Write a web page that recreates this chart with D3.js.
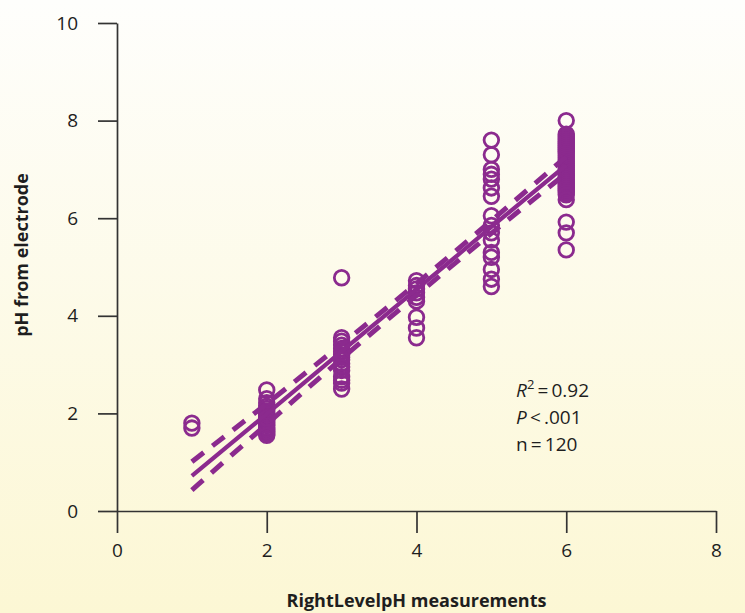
<!DOCTYPE html>
<html>
<head>
<meta charset="utf-8">
<script src="https://cdn.jsdelivr.net/npm/d3@7"></script>
<style>
  html, body { margin: 0; padding: 0; }
  body { width: 745px; height: 613px; overflow: hidden; }
  svg { display: block; font-family: "Open Sans", "Noto Sans", sans-serif; }
</style>
</head>
<body>
<svg width="745" height="613"></svg>
<script>
const xTicks = [0, 2, 4, 6, 8];
const yTicks = [0, 2, 4, 6, 8, 10];

const ph1 = [1.8, 1.7];
const ph2 = [2.48, 2.3, 2.22, 2.15, 2.1, 2.05, 2.0, 1.97, 1.93, 1.9, 1.86, 1.82, 1.78, 1.75, 1.7, 1.66, 1.62, 1.58, 1.55, 1.9];
const ph3 = [4.78, 3.55, 3.48, 3.4, 3.33, 3.27, 3.2, 3.15, 3.1, 3.02, 2.95, 2.88, 2.75, 2.68, 2.62, 2.5];
const ph4 = [4.72, 4.62, 4.55, 4.47, 4.38, 4.3, 3.97, 3.75, 3.55];
const ph5 = [7.6, 7.3, 7.0, 6.9, 6.8, 6.62, 6.45, 6.05, 5.85, 5.7, 5.55, 5.3, 5.2, 4.95, 4.75, 4.6];
const ph6 = [8.0, 7.72, 7.68, 7.64, 7.6, 7.56, 7.52, 7.48, 7.44, 7.4, 7.36, 7.32, 7.28, 7.24, 7.2,
             7.16, 7.12, 7.08, 7.04, 7.0, 6.96, 6.92, 6.88, 6.84, 6.8, 6.76, 6.72, 6.68, 6.64, 6.6,
             6.56, 6.52, 6.48, 6.38, 5.92, 5.7, 5.35];

const fitX = [1, 2, 3, 4, 5, 6];
const fitY = [0.72, 1.99, 3.27, 4.54, 5.82, 7.09];
const upperY = [1.01, 2.2, 3.42, 4.66, 5.95, 7.26];
const lowerY = [0.43, 1.78, 3.12, 4.42, 5.69, 6.92];

const stats = ["0.92", ".001", "120"];

const points = [];
[[1, ph1], [2, ph2], [3, ph3], [4, ph4], [5, ph5], [6, ph6]].forEach(([x, arr]) => {
  arr.forEach((y) => points.push({ x: x, y: y }));
});

const purple = "#8b2a8e";
const ink = "#1e1e1e";
const svg = d3.select("svg");

// background wash, white at top to pale yellow at bottom
const grad = svg.append("defs").append("linearGradient")
  .attr("id", "bg").attr("x1", 0).attr("y1", 0).attr("x2", 0).attr("y2", 1);
grad.append("stop").attr("offset", "0%").attr("stop-color", "#fefefc");
grad.append("stop").attr("offset", "100%").attr("stop-color", "#fcf7d4");
svg.append("rect").attr("width", 745).attr("height", 613).attr("fill", "url(#bg)");

const x = d3.scaleLinear().domain([0, 8]).range([117, 716]);
const y = d3.scaleLinear().domain([0, 10]).range([511, 23]);

const xAxis = svg.append("g")
  .attr("transform", `translate(0,${y(0)})`)
  .call(d3.axisBottom(x).tickValues(xTicks).tickSize(22).tickSizeOuter(0).tickPadding(11));
const yAxis = svg.append("g")
  .attr("transform", `translate(${x(0)},0)`)
  .call(d3.axisLeft(y).tickValues(yTicks).tickSize(19).tickSizeOuter(0).tickPadding(20));

[xAxis, yAxis].forEach((g) => {
  g.selectAll("path, line").attr("stroke", "#333").attr("stroke-width", 1.7);
  g.selectAll("text").attr("fill", ink).style("font-size", "19px")
    .style("font-family", "'Open Sans', sans-serif");
});

// circles first, lines drawn over them
svg.append("g").selectAll("circle")
  .data(points)
  .enter()
  .append("circle")
  .attr("cx", (d) => x(d.x))
  .attr("cy", (d) => y(d.y))
  .attr("r", 7.3)
  .attr("fill", "none")
  .attr("stroke", purple)
  .attr("stroke-width", 2.8);

const line = (vals) => d3.line()
  .x((d, i) => x(fitX[i]))
  .y((d) => y(d))
  .curve(d3.curveNatural)(vals);

svg.append("path").attr("d", line(fitY))
  .attr("fill", "none").attr("stroke", purple).attr("stroke-width", 4.2);
[upperY, lowerY].forEach((vals) => {
  svg.append("path").attr("d", line(vals))
    .attr("fill", "none").attr("stroke", purple).attr("stroke-width", 5)
    .attr("stroke-dasharray", "15,11");
});

// stats block
const st = svg.append("g").style("font-size", "19px").attr("fill", ink);
const t1 = st.append("text").attr("x", 516).attr("y", 397);
t1.append("tspan").style("font-style", "italic").text("R");
t1.append("tspan").attr("dy", -8).style("font-size", "13px").text("2");
t1.append("tspan").attr("dy", 8).text("\u2009=\u2009" + stats[0]);
const t2 = st.append("text").attr("x", 516).attr("y", 424);
t2.append("tspan").style("font-style", "italic").text("P");
t2.append("tspan").text("\u2009<\u2009" + stats[1]);
st.append("text").attr("x", 516).attr("y", 451).text("n\u2009=\u2009" + stats[2]);

// axis titles
svg.append("text")
  .attr("x", (x(0) + x(8)) / 2).attr("y", 607)
  .attr("text-anchor", "middle")
  .style("font-size", "18px").style("font-weight", "bold").attr("fill", ink)
  .text("RightLevelpH measurements");
svg.append("text")
  .attr("transform", "translate(28,255) rotate(-90)")
  .attr("text-anchor", "middle")
  .style("font-size", "18px").style("font-weight", "bold").attr("fill", ink)
  .text("pH from electrode");
</script>
</body>
</html>
